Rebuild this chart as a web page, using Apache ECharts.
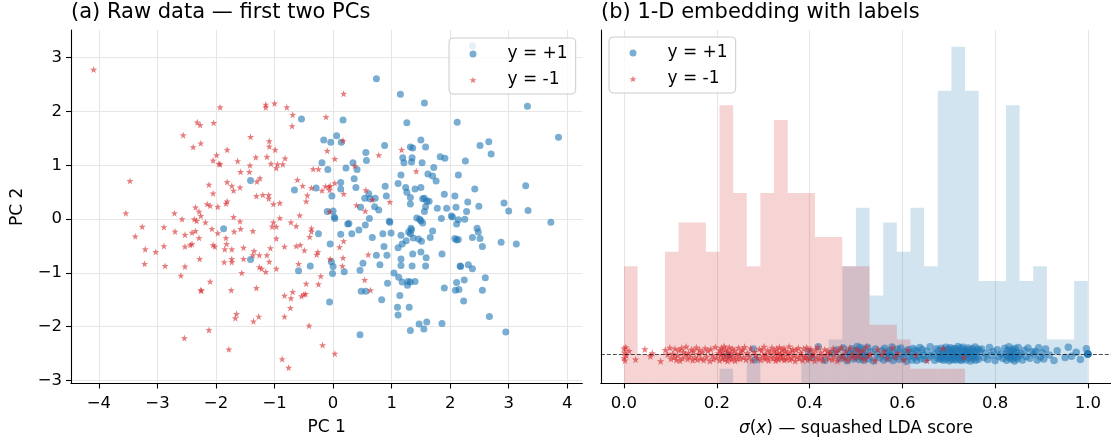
<!DOCTYPE html>
<html>
<head>
<meta charset="utf-8">
<script src="https://cdn.jsdelivr.net/npm/echarts@6/dist/echarts.min.js"></script>
<style>html,body{margin:0;padding:0;background:#fff}#c{width:1111px;height:443px}</style>
</head>
<body>
<div id="c"></div>
<script>
// ---------- data ----------
const LEFT_X_TICKS = [-4, -3, -2, -1, 0, 1, 2, 3, 4];
const LEFT_Y_TICKS = [-3, -2, -1, 0, 1, 2, 3];
const RIGHT_X_TICKS = [0, 0.2, 0.4, 0.6, 0.8, 1.0];

// (a) first two PCs, class y = +1
const PC_POS = [
[-0.54,1.86],[-0.16,1.47],[-0.04,1.43],[-0.19,1.05],[-0.09,0.92],[-1.41,0.72],[-0.66,0.54],[-0.29,0.58],[-0.02,0.43],[-0.10,0.14],[0.00,0.15],[0.02,0.04],[-1.87,-0.18],[-0.25,-0.27],[-0.05,-0.46],[-1.41,-0.75],[-0.59,-0.96],[-0.39,-0.87],[-0.03,-0.79],[0.00,-0.88],[-0.01,-1.01],[-0.06,-1.54],
[2.38,3.22],[0.74,2.61],[1.15,2.32],[1.56,2.16],[3.32,2.10],[3.85,1.52],[0.17,1.84],[1.26,1.79],[2.12,1.80],[0.06,1.55],[0.14,1.43],[1.50,1.47],[1.58,1.34],[1.32,1.34],[1.36,1.32],[2.51,1.37],[2.66,1.44],[2.70,1.21],[0.88,1.37],[0.56,1.24],[0.57,1.09],[0.34,1.05],[1.19,1.14],[1.21,1.05],[1.35,1.14],[1.34,1.06],[1.52,1.05],[1.83,1.16],[1.91,1.13],[2.26,1.08],[1.72,0.96],[1.62,0.84],[1.70,0.80],[1.76,0.71],[1.16,0.82],[2.14,0.82],[0.22,0.95],[0.41,0.92],[0.36,0.75],[0.39,0.59],[0.13,0.68],[0.13,0.56],[1.11,0.66],[1.24,0.59],[1.26,0.50],[1.40,0.56],[1.50,0.59],[0.89,0.61],[0.91,0.43],[1.32,0.40],[1.32,0.28],[0.61,0.47],[0.54,0.39],[0.47,0.22],[0.63,0.38],[0.72,0.39],[0.71,0.23],[0.78,0.17],[1.53,0.38],[1.56,0.39],[1.60,0.33],[1.64,0.33],[1.58,0.23],[1.56,0.14],[1.78,0.20],[1.90,0.46],[1.94,0.20],[2.08,0.43],[2.10,0.22],[2.30,0.32],[2.28,0.14],[2.42,0.56],[2.49,0.24],[2.92,0.30],[3.00,0.15],[3.29,0.62],[3.33,0.16],[3.72,-0.06],[2.02,0.06],[2.04,0.04],[2.14,-0.01],[2.25,0.00],[2.11,-0.09],[1.43,0.02],[1.48,0.00],[1.50,-0.03],[1.53,-0.07],[1.85,0.01],[0.96,-0.04],[0.97,-0.06],[0.62,0.01],[0.55,-0.11],[0.27,-0.08],[0.25,-0.09],[0.03,0.01],[0.44,-0.20],[0.32,-0.27],[0.13,-0.28],[0.67,-0.34],[0.85,-0.27],[0.99,-0.26],[1.16,-0.30],[1.29,-0.24],[1.33,-0.17],[1.34,-0.20],[1.32,-0.27],[1.37,-0.35],[1.46,-0.37],[1.51,-0.41],[1.25,-0.40],[1.18,-0.46],[1.11,-0.53],[0.87,-0.51],[1.70,-0.22],[1.66,-0.34],[2.08,-0.36],[2.11,-0.39],[2.14,-0.38],[2.38,-0.34],[2.46,-0.17],[2.48,-0.24],[2.51,-0.36],[2.55,-0.51],[2.87,-0.43],[3.13,-0.46],[0.74,-0.67],[0.92,-0.67],[0.80,-0.85],[1.16,-0.74],[1.16,-0.86],[1.36,-0.65],[1.50,-0.61],[1.59,-0.72],[1.58,-0.87],[1.35,-0.87],[1.86,-0.65],[0.19,-0.98],[0.46,-0.95],[0.51,-0.82],[1.04,-1.00],[1.12,-1.08],[1.18,-1.17],[1.28,-1.16],[1.32,-1.17],[1.40,-1.16],[1.27,-1.23],[0.48,-1.34],[0.56,-1.34],[0.93,-1.19],[1.14,-1.42],[0.83,-1.50],[1.90,-1.28],[2.09,-1.32],[2.15,-1.31],[2.11,-1.18],[2.17,-0.87],[2.18,-0.88],[2.31,-0.85],[2.38,-0.92],[2.24,-1.13],[2.60,-1.09],[2.55,-1.32],[2.23,-1.52],[1.10,-1.64],[1.11,-1.78],[1.30,-1.64],[2.67,-1.81],[1.47,-1.95],[1.60,-1.91],[1.55,-2.04],[1.32,-2.07],[1.86,-1.94],[2.95,-2.10],[0.46,-2.15]
];

// (a) first two PCs, class y = -1
const PC_NEG = [
[-4.09,2.78],[-1.93,2.08],[-1.15,2.13],[-1.15,2.08],[-1.00,2.15],[-0.79,2.08],[-0.69,1.94],[-0.70,1.73],[-0.12,1.90],[-2.32,1.80],[-2.27,1.75],[-2.04,1.79],[-2.56,1.56],[-1.41,1.53],[-1.09,1.45],[-2.26,1.41],[-2.39,1.34],[-1.09,1.35],[-1.81,1.29],[-0.99,1.29],[-0.10,1.27],[-1.99,1.19],[-1.32,1.15],[-1.13,1.16],[-0.82,1.13],[-2.05,1.09],[-1.95,1.03],[-1.93,1.02],[-1.63,1.08],[-1.42,1.00],[-1.06,1.03],[-0.95,1.02],[-0.86,1.02],[-0.97,0.95],[-0.34,0.93],[-0.25,0.93],[-1.58,0.88],[-1.43,0.88],[-1.25,0.76],[-1.30,0.70],[-0.61,0.73],[-2.12,0.64],[-1.81,0.69],[-1.73,0.62],[-1.70,0.53],[-1.59,0.59],[-0.52,0.62],[-0.13,0.61],[-0.19,0.53],[-1.20,0.45],[-1.10,0.45],[-1.31,0.43],[-1.10,0.38],[-0.44,0.44],[-0.46,0.33],[-2.05,0.48],[-2.15,0.28],[-2.10,0.25],[-1.97,0.23],[-1.83,0.29],[-1.81,0.33],[-1.02,0.28],[-0.91,0.30],[-2.35,0.22],[-2.29,0.14],[-2.26,0.06],[-2.71,0.11],[-2.58,0.00],[-2.37,0.00],[-2.33,-0.03],[-2.18,-0.06],[-1.70,0.04],[-1.59,-0.04],[-0.91,0.02],[-1.02,-0.06],[-0.57,0.07],[-0.72,-0.06],[-1.04,-0.14],[-0.97,-0.14],[-0.63,-0.13],[-3.54,0.11],[-3.47,0.71],[-3.26,-0.14],[-3.38,-0.32],[-2.89,-0.15],[-2.70,-0.23],[-2.53,-0.29],[-2.41,-0.25],[-2.35,-0.22],[-2.29,-0.35],[-2.07,-0.18],[-1.97,-0.26],[-1.83,-0.35],[-1.82,-0.46],[-1.69,-0.23],[-1.58,-0.18],[-1.37,-0.22],[-0.97,-0.36],[-0.37,-0.17],[-0.37,-0.23],[-0.40,-0.33],[-3.21,-0.56],[-3.03,-0.61],[-3.22,-0.83],[-2.89,-0.50],[-2.87,-0.87],[-2.53,-0.51],[-2.44,-0.48],[-2.41,-0.46],[-2.05,-0.48],[-2.02,-0.51],[-2.28,-0.74],[-2.53,-0.88],[-1.85,-0.56],[-1.73,-0.56],[-1.53,-0.53],[-1.35,-0.59],[-1.37,-0.67],[-1.26,-0.67],[-1.13,-0.67],[-1.07,-0.54],[-0.83,-0.51],[-0.63,-0.50],[-0.56,-0.48],[-0.49,-0.58],[-0.28,-0.66],[-0.26,-0.61],[-1.86,-0.80],[-1.73,-0.74],[-1.73,-0.80],[-1.53,-0.74],[-1.26,-0.89],[-1.22,-0.92],[-1.15,-0.98],[-1.09,-0.79],[-0.97,-0.92],[-0.59,-0.83],[-1.56,-1.00],[-2.60,-1.05],[-2.10,-1.16],[-2.26,-1.32],[-2.25,-1.33],[-1.74,-1.32],[-1.31,-1.28],[-0.46,-1.20],[-0.25,-1.21],[-0.21,-1.06],[-0.83,-1.42],[-0.69,-1.35],[-0.72,-1.47],[-0.54,-1.43],[-0.50,-1.40],[-0.47,-1.39],[-1.65,-1.76],[-1.67,-1.84],[-1.36,-1.90],[-1.27,-1.81],[-0.83,-1.81],[-0.73,-1.65],[-0.41,-1.98],[-2.12,-2.06],[-2.54,-2.21],[-1.78,-2.42],[-0.18,-2.34],[-0.87,-2.60],[-0.76,-2.76],[0.03,-2.50],[-0.37,0.58],[-0.06,0.14],[-0.05,-0.74],[-0.05,0.62],
[0.18,2.33],[0.17,1.46],[0.03,1.12],[0.78,1.19],[1.17,1.29],[1.42,0.89],[0.37,0.99],[0.03,0.67],[-0.07,0.60],[-0.06,0.54],[0.18,0.47],[0.56,0.54],[0.67,0.36],[0.55,0.15],[0.40,0.26],[0.97,0.32],[0.18,-0.41],[0.11,-0.52],[0.60,-0.66],[0.17,-0.72],[0.16,-0.87],[0.54,-1.13],[0.64,-1.32]
];

// (b) histogram counts, 34 equal bins on [0, 1]
const HIST_BINS = 34;
const HIST_POS = [0,0,0,0,0,0,0,1,0,2,0,0,0,2,2,3,8,12,6,11,9,12,8,20,23,20,7,7,19,7,8,3,3,7];
const HIST_NEG = [8,2,2,9,11,11,9,19,13,8,13,18,13,13,10,10,8,8,4,4,3,1,1,1,1,0,0,0,0,0,0,0,0,0];

// (b) rug: squashed scores and their vertical jitter
const RUG_POS_S = [
0.224,0.279,0.283,0.398,0.404,0.419,0.433,0.447,0.458,0.466,
0.473,0.475,0.481,0.484,0.488,0.491,0.495,0.499,
0.501,0.503,0.506,0.507,0.510,0.512,0.514,0.517,0.519,0.521,0.525,0.528,
0.532,0.538,0.542,0.546,0.551,0.557,
0.560,0.562,0.565,0.568,0.570,0.572,0.575,0.578,0.580,0.584,0.586,
0.590,0.593,0.597,0.600,0.603,0.607,0.609,0.613,0.616,
0.619,0.621,0.623,0.626,0.628,0.631,0.633,0.635,0.638,0.640,0.643,0.646,
0.649,0.652,0.656,0.660,0.663,0.667,0.670,0.674,
0.677,0.678,0.680,0.682,0.683,0.684,0.686,0.688,0.689,0.690,0.692,0.694,0.695,0.696,0.698,0.699,0.701,0.703,0.704,0.705,
0.706,0.707,0.709,0.710,0.712,0.713,0.714,0.715,0.717,0.718,0.720,0.721,0.722,0.724,0.725,0.726,0.727,0.729,0.730,0.731,0.732,0.734,0.735,
0.736,0.738,0.739,0.740,0.742,0.743,0.745,0.747,0.748,0.749,0.751,0.752,0.754,0.756,0.757,0.758,0.760,0.761,0.763,0.764,
0.767,0.771,0.776,0.779,0.784,0.788,0.792,
0.796,0.800,0.805,0.808,0.813,0.817,0.821,
0.824,0.825,0.827,0.828,0.830,0.832,0.833,0.834,0.836,0.837,0.839,0.841,0.842,0.843,0.845,0.847,0.848,0.850,0.852,
0.855,0.859,0.864,0.867,0.871,0.875,0.880,
0.884,0.887,0.891,0.894,0.898,0.902,0.905,0.909,
0.917,0.927,0.934,0.951,0.958,0.965,
0.975,0.984,0.997,1.000,1.000,1.000,1.000
];
const RUG_POS_Y = [
1.92,2.34,1.61,2.18,1.77,2.49,1.58,2.05,2.27,1.70,2.41,1.86,1.54,2.13,1.95,2.37,1.66,2.22,1.81,2.52,
2.09,1.63,2.44,1.79,2.30,1.57,2.01,1.88,2.46,1.68,2.15,1.53,2.35,1.97,1.74,2.25,1.60,2.40,1.84,2.11,
1.69,2.20,1.90,2.48,1.56,2.07,1.82,2.33,1.64,2.42,1.99,1.73,2.16,1.51,2.29,1.87,2.04,1.59,2.38,1.78,
2.26,1.55,2.12,1.85,2.45,1.67,2.31,1.94,1.62,2.19,1.76,2.50,1.89,2.03,1.58,2.36,1.71,2.23,1.96,1.65,
1.83,2.39,1.72,2.08,1.57,2.28,1.93,2.47,1.66,2.14,1.80,2.32,1.54,2.00,2.43,1.75,2.17,1.61,2.35,1.90,
2.02,1.68,2.37,1.59,2.24,1.86,2.51,1.73,2.10,1.63,2.40,1.95,1.56,2.21,1.81,2.46,1.70,2.06,1.88,2.30,
1.60,2.15,1.98,2.42,1.74,2.27,1.53,2.04,1.87,2.36,1.67,2.19,1.92,2.48,1.58,2.11,1.79,2.33,1.65,2.22,
2.35,1.77,2.06,1.62,2.44,1.91,2.18,1.55,2.29,1.84,2.01,1.69,2.39,1.97,1.57,2.25,1.82,2.49,1.72,2.09,
1.86,2.31,1.64,2.20,1.94,1.52,2.38,1.78,2.13,1.67,2.45,1.89,2.03,1.60,2.26,1.83,2.41,1.71,2.16,1.99,
2.17,1.59,2.43,1.80,2.07,1.66,2.34,1.93,1.55,2.23,1.76,2.47,1.85,2.12,1.63,2.37,2.00,2.01,1.99,2.00
];
const RUG_NEG_S = [
0.000,0.000,0.001,0.002,0.004,0.005,0.011,0.025,
0.045,0.057,0.061,0.079,
0.089,0.094,0.099,0.101,0.105,0.108,0.110,0.113,0.116,
0.118,0.121,0.124,0.126,0.128,0.132,0.134,0.137,0.139,0.142,0.146,
0.148,0.150,0.153,0.156,0.158,0.161,0.163,0.166,0.169,0.172,0.175,
0.178,0.181,0.185,0.187,0.191,0.193,0.197,0.200,0.204,
0.206,0.207,0.209,0.210,0.212,0.213,0.215,0.216,0.218,0.219,0.221,0.223,0.224,0.226,0.227,0.229,0.231,0.232,0.234,
0.236,0.238,0.240,0.243,0.244,0.247,0.249,0.251,0.253,0.256,0.258,0.260,0.263,
0.266,0.270,0.273,0.276,0.281,0.284,0.288,0.292,
0.295,0.297,0.299,0.302,0.304,0.305,0.308,0.310,0.312,0.315,0.317,0.319,0.322,
0.324,0.326,0.327,0.329,0.330,0.332,0.333,0.335,0.337,0.338,0.340,0.341,0.343,0.345,0.346,0.348,0.350,0.352,
0.354,0.356,0.358,0.360,0.362,0.364,0.366,0.369,0.371,0.373,0.376,0.378,0.381,
0.383,0.385,0.387,0.390,0.392,0.394,0.396,0.399,0.401,0.403,0.406,0.408,0.411,
0.413,0.416,0.418,0.421,0.424,0.427,0.430,0.433,0.436,0.440,
0.442,0.445,0.449,0.451,0.454,0.458,0.460,0.463,0.466,0.469,
0.472,0.476,0.479,0.483,0.487,0.490,0.494,0.498,
0.501,0.505,0.508,0.512,0.515,0.519,0.523,0.527,
0.531,0.541,0.547,0.556,0.561,0.568,0.579,0.585,
0.590,0.603,0.612,0.629,0.653,0.688,0.733
];
const RUG_NEG_Y = [
2.38,1.74,2.10,1.56,2.47,1.92,2.21,1.63,2.33,1.85,2.05,1.51,2.28,1.97,2.44,1.68,2.02,1.79,2.36,1.60,
1.88,2.26,1.55,2.41,1.71,2.14,1.95,2.50,1.66,2.08,1.83,2.31,1.58,2.19,1.76,2.45,1.62,2.00,2.29,1.70,
2.12,1.59,2.40,1.81,2.23,1.53,2.35,1.90,1.65,2.48,1.77,2.06,1.57,2.27,1.94,2.42,1.69,2.16,1.86,2.53,
1.64,2.32,1.98,1.52,2.20,1.75,2.46,1.89,2.09,1.61,2.37,1.80,2.25,1.54,2.03,1.72,2.43,1.96,1.67,2.18,
2.30,1.78,2.49,1.62,2.07,1.84,2.39,1.56,2.15,1.93,1.73,2.34,1.60,2.24,1.87,2.51,1.66,2.01,1.79,2.27,
1.57,2.13,1.82,2.44,1.70,2.22,1.99,1.55,2.36,1.76,2.11,1.63,2.47,1.91,2.04,1.68,2.30,1.85,2.40,1.59,
2.21,1.66,2.05,1.88,2.52,1.61,2.17,1.74,2.33,1.96,1.53,2.28,1.81,2.42,1.69,2.09,1.94,1.58,2.37,1.77,
1.83,2.45,1.60,2.19,1.72,2.35,1.90,2.02,1.54,2.26,1.79,2.48,1.65,2.12,1.87,1.57,2.31,1.97,2.23,1.71,
2.07,1.62,2.39,1.84,2.14,1.52,2.29,1.76,2.46,1.93,1.68,2.20,1.58,2.41,1.80,2.03,1.73,2.34,1.89,2.16,
1.75,2.24,1.63,2.50,1.86,2.01,1.56,2.32,1.95,2.18,1.70,2.43,1.82,2.06,1.61,2.27,1.92,1.55,2.38,1.78
];
const RUG_LEVEL = 2;

// ---------- chart ----------
const FONT = 'DejaVu Sans';
const STAR = 'path://M0,-10L2.35,-3.24L9.51,-3.09L3.8,1.24L5.88,8.09L0,4L-5.88,8.09L-3.8,1.24L-9.51,-3.09L-2.35,-3.24Z';
const BLUE = '#1f77b4', RED = '#d62728';
const minus = v => String(v).replace('-', '\u2212');

const edges = Array.from({length: HIST_BINS + 1}, (_, i) => i / HIST_BINS);
const histData = counts => counts.map((c, i) => [edges[i], edges[i + 1], c]).filter(d => d[2] > 0);
const zip = (a, b) => a.map((v, i) => [v, b[i]]);

function histSeries(name, counts, fill) {
  return {
    type: 'custom', name, xAxisIndex: 1, yAxisIndex: 1, silent: true,
    data: histData(counts), encode: {x: [0, 1], y: 2},
    renderItem: (params, api) => {
      const p0 = api.coord([api.value(0), 0]);
      const p1 = api.coord([api.value(1), api.value(2)]);
      return {type: 'rect', shape: {x: p0[0], y: p1[1], width: p1[0] - p0[0], height: p0[1] - p1[1]},
              style: {fill: fill}};
    }
  };
}

const tickFont = {fontFamily: FONT, fontSize: 16.5, color: '#000'};
const nameFont = {fontFamily: FONT, fontSize: 17, color: '#000'};
const spine = {show: true, onZero: false, lineStyle: {color: '#000', width: 1.1}};
const grid = {show: true, lineStyle: {color: '#e6e6e6', width: 1.1}};
const tick = vals => ({show: true, inside: false, length: 5, lineStyle: {color: '#000', width: 1.1}, customValues: vals});

function legendAt(left, top) {
  return {
    left, top, orient: 'vertical',
    data: [{name: 'y = +1', icon: 'circle'}, {name: 'y = -1', icon: STAR}],
    itemWidth: 7, itemHeight: 7, itemGap: 6,
    padding: [6, 8, 4, 20.5],
    textStyle: {fontFamily: FONT, fontSize: 17, color: '#000', lineHeight: 20, padding: [0, 0, 0, 26]},
    backgroundColor: 'rgba(255,255,255,0.8)', borderColor: '#cccccc', borderWidth: 1, borderRadius: 4,
    selectedMode: false, z: 10
  };
}

const option = {
  animation: false,
  backgroundColor: '#ffffff',
  title: [
    {text: '(a) Raw data \u2014 first two PCs', left: 71, top: 2, padding: 0,
     textStyle: {fontFamily: FONT, fontSize: 21, fontWeight: 'normal', color: '#000'}},
    {text: '(b) 1-D embedding with labels', left: 601, top: 2, padding: 0,
     textStyle: {fontFamily: FONT, fontSize: 21, fontWeight: 'normal', color: '#000'}}
  ],
  legend: [legendAt(449, 38), legendAt(609, 37)],
  grid: [
    {left: 71, top: 30, width: 511.3, height: 353.5},
    {left: 600.8, top: 30, width: 510.9, height: 353.3}
  ],
  xAxis: [
    {gridIndex: 0, type: 'value', min: -4.477, max: 4.257,
     axisLine: spine, axisTick: tick(LEFT_X_TICKS),
     axisLabel: Object.assign({customValues: LEFT_X_TICKS, margin: 12, formatter: minus}, tickFont),
     splitLine: grid, name: 'PC 1', nameLocation: 'middle', nameGap: 36, nameTextStyle: nameFont},
    {gridIndex: 1, type: 'value', min: -0.05, max: 1.05,
     axisLine: spine, axisTick: tick(RIGHT_X_TICKS),
     axisLabel: Object.assign({customValues: RIGHT_X_TICKS, margin: 12, formatter: v => v.toFixed(1)}, tickFont),
     splitLine: grid,
     name: '{i|\u03c3}({i|x}) \u2014 squashed LDA score', nameLocation: 'middle', nameGap: 37,
     nameTextStyle: Object.assign({rich: {i: {fontFamily: FONT, fontSize: 17, fontStyle: 'italic', color: '#000'}}}, nameFont)}
  ],
  yAxis: [
    {gridIndex: 0, type: 'value', min: -3.055, max: 3.515,
     axisLine: spine, axisTick: tick(LEFT_Y_TICKS),
     axisLabel: Object.assign({customValues: LEFT_Y_TICKS, margin: 9, formatter: minus}, tickFont),
     splitLine: grid, name: 'PC 2', nameLocation: 'middle', nameGap: 45, nameTextStyle: nameFont},
    {gridIndex: 1, type: 'value', min: 0, max: 24.15,
     axisLine: spine, axisTick: {show: false}, axisLabel: {show: false}, splitLine: {show: false}}
  ],
  series: [
    {type: 'scatter', name: 'y = +1', xAxisIndex: 0, yAxisIndex: 0, data: PC_POS,
     symbol: 'circle', symbolSize: 7, itemStyle: {color: BLUE, opacity: 0.6}},
    {type: 'scatter', name: 'y = -1', xAxisIndex: 0, yAxisIndex: 0, data: PC_NEG,
     symbol: STAR, symbolSize: 7, itemStyle: {color: RED, opacity: 0.6}},
    histSeries('hist +1', HIST_POS, 'rgba(31,119,180,0.2)'),
    histSeries('hist -1', HIST_NEG, 'rgba(214,39,40,0.2)'),
    {type: 'scatter', name: 'y = +1', xAxisIndex: 1, yAxisIndex: 1, data: zip(RUG_POS_S, RUG_POS_Y),
     symbol: 'circle', symbolSize: 7.5, itemStyle: {color: BLUE, opacity: 0.55}},
    {type: 'scatter', name: 'y = -1', xAxisIndex: 1, yAxisIndex: 1, data: zip(RUG_NEG_S, RUG_NEG_Y),
     symbol: STAR, symbolSize: 7.5, itemStyle: {color: RED, opacity: 0.6},
     markLine: {silent: true, symbol: ['none', 'none'], label: {show: false},
                lineStyle: {type: [4, 2], color: 'rgba(0,0,0,0.7)', width: 1.1},
                data: [{yAxis: RUG_LEVEL}]}}
  ]
};

const chart = echarts.init(document.getElementById('c'), null, {renderer: 'canvas'});
chart.setOption(option);
</script>
</body>
</html>
